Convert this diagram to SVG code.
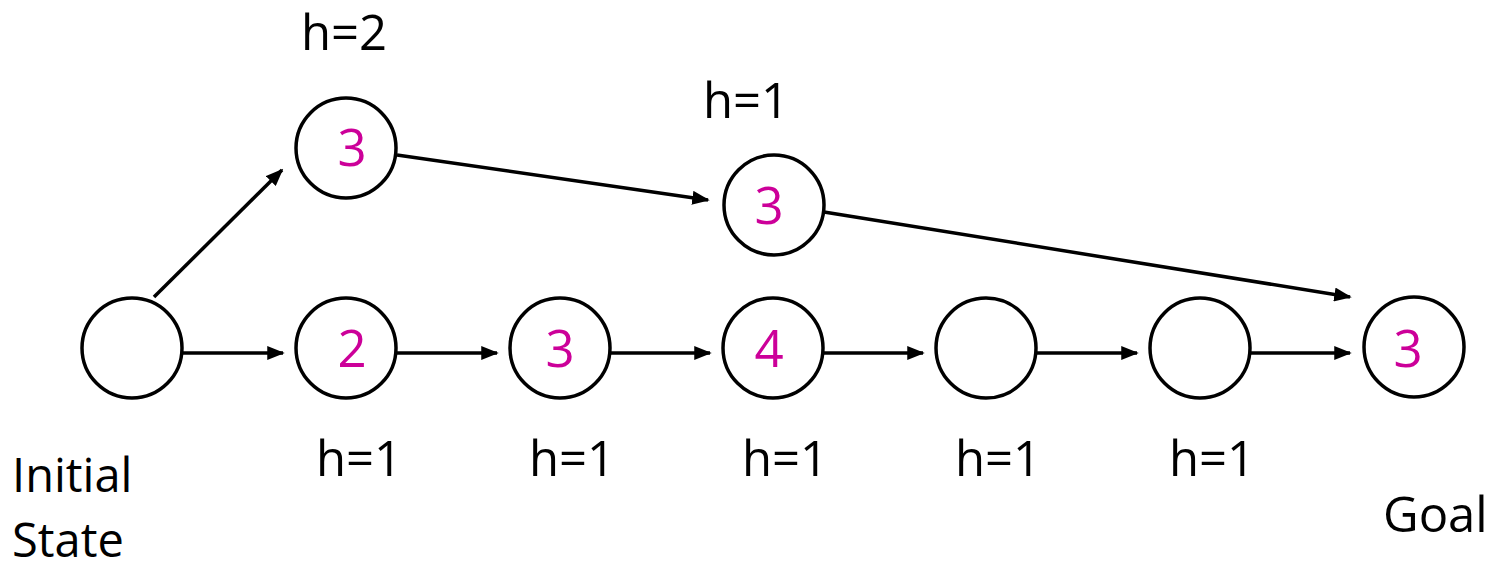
<svg xmlns="http://www.w3.org/2000/svg" width="1493" height="570" viewBox="0 0 1493 570">
<style>
.n{fill:#fff;stroke:#000;stroke-width:3.5}
.e{stroke:#000;stroke-width:3.5;fill:none;marker-end:url(#ah)}
.t{font-family:"Open Sans","Noto Sans",sans-serif;font-size:49px;fill:#000}
.s{font-size:47px}
.v{font-family:"Open Sans","Noto Sans",sans-serif;font-size:51px;fill:#CC0099;text-anchor:middle}
.m{text-anchor:middle}
</style>
<defs>
<marker id="ah" markerWidth="5" markerHeight="4" refX="4.5" refY="2" orient="auto" markerUnits="strokeWidth">
<path d="M0,0 L5,2 L0,4 Z" fill="#000"/>
</marker>
</defs>
<g id="connectors">
<line class="e" x1="154" y1="297" x2="282" y2="170"/>
<line class="e" x1="183" y1="353" x2="283" y2="353"/>
<line class="e" x1="397" y1="155" x2="708" y2="200"/>
<line class="e" x1="824" y1="212" x2="1350" y2="297"/>
<line class="e" x1="397" y1="353" x2="497" y2="353"/>
<line class="e" x1="611" y1="353" x2="710" y2="353"/>
<line class="e" x1="824" y1="353" x2="923" y2="353"/>
<line class="e" x1="1037" y1="353" x2="1137" y2="353"/>
<line class="e" x1="1250" y1="353" x2="1350" y2="353"/>
</g>
<g id="initial"><circle class="n" cx="132" cy="348" r="50"/>
<text class="t s" x="12" y="492">Initial</text><text class="t s" x="12" y="557">State</text></g>
<g id="top1"><circle class="n" cx="346" cy="148" r="50"/><text class="v" x="352" y="166">3</text>
<text class="t m" x="344" y="50">h=2</text></g>
<g id="top2"><circle class="n" cx="774" cy="205" r="50"/><text class="v" x="769" y="224">3</text>
<text class="t m" x="746" y="118">h=1</text></g>
<g id="b1"><circle class="n" cx="346" cy="348" r="50"/><text class="v" x="352" y="367">2</text>
<text class="t m" x="359" y="476">h=1</text></g>
<g id="b2"><circle class="n" cx="560" cy="348" r="50"/><text class="v" x="560" y="367">3</text>
<text class="t m" x="572" y="476">h=1</text></g>
<g id="b3"><circle class="n" cx="773" cy="348" r="50"/><text class="v" x="769" y="367">4</text>
<text class="t m" x="785" y="476">h=1</text></g>
<g id="b4"><circle class="n" cx="986" cy="348" r="50"/>
<text class="t m" x="998" y="476">h=1</text></g>
<g id="b5"><circle class="n" cx="1200" cy="348" r="50"/>
<text class="t m" x="1212" y="476">h=1</text></g>
<g id="goal"><circle class="n" cx="1414" cy="347" r="50"/><text class="v" x="1408" y="367">3</text>
<text class="t" x="1383" y="532">Goal</text></g>
</svg>
